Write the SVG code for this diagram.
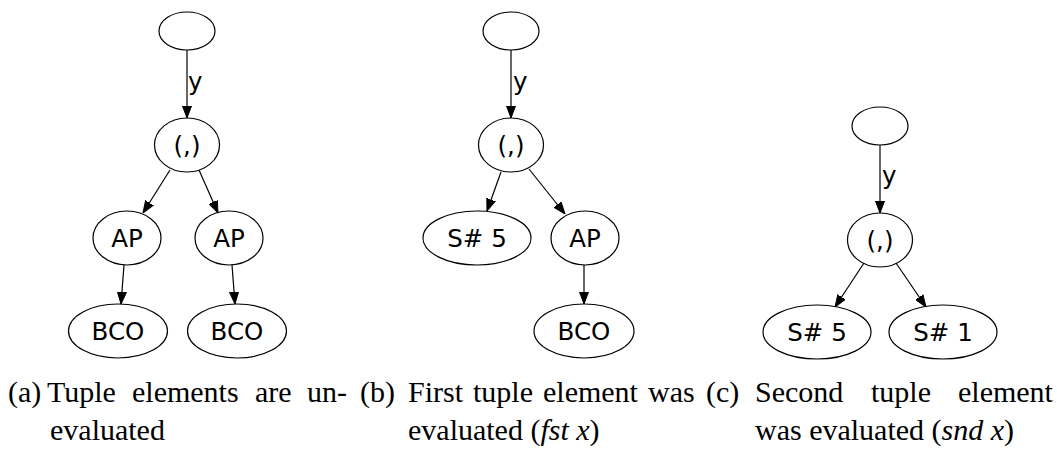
<svg xmlns="http://www.w3.org/2000/svg" width="1057" height="450" viewBox="0 0 1057 450">
<style>
.n ellipse{fill:none;stroke:#000;stroke-width:1.2}
.n text,.lbl{font-family:"DejaVu Sans",sans-serif;font-size:24.5px;fill:#000}
.n text{text-anchor:middle}
.e line{stroke:#000;stroke-width:1.2;marker-end:url(#ah)}
.cap{font-family:"Liberation Serif",serif;font-size:30px;fill:#000}
</style>
<defs>
<marker id="ah" markerUnits="userSpaceOnUse" viewBox="0 0 12 10" refX="12" refY="5" markerWidth="12" markerHeight="10" orient="auto">
<path d="M0,0.5 L12,5 L0,9.5 Z" fill="#000" stroke="#000" stroke-width="1"/>
</marker>
</defs>
<g id="edges" class="e">
<line x1="187" y1="50" x2="187" y2="118"/>
<line x1="170" y1="170" x2="143" y2="213"/>
<line x1="199" y1="170" x2="218" y2="213"/>
<line x1="124" y1="265" x2="121" y2="304"/>
<line x1="232" y1="265" x2="235" y2="304"/>
<line x1="511" y1="50" x2="511" y2="118"/>
<line x1="501" y1="172" x2="487" y2="211"/>
<line x1="529" y1="169" x2="565" y2="214"/>
<line x1="584" y1="265" x2="584" y2="304"/>
<line x1="880" y1="145" x2="880" y2="213"/>
<line x1="864" y1="263" x2="835" y2="307"/>
<line x1="896" y1="263" x2="926" y2="307"/>
<text class="lbl" x="188" y="90">y</text>
<text class="lbl" x="513" y="90">y</text>
<text class="lbl" x="882" y="184">y</text>
</g>
<g id="a_root" class="n"><ellipse cx="187" cy="31" rx="28" ry="19"/></g>
<g id="a_pair" class="n"><ellipse cx="187" cy="145" rx="32.5" ry="27"/><text x="187" y="153.5">(,)</text></g>
<g id="a_ap1" class="n"><ellipse cx="127" cy="238" rx="34" ry="27"/><text x="127" y="246.5">AP</text></g>
<g id="a_ap2" class="n"><ellipse cx="229" cy="238" rx="34" ry="27"/><text x="229" y="246.5">AP</text></g>
<g id="a_bco1" class="n"><ellipse cx="118" cy="331" rx="49.5" ry="27"/><text x="118" y="339.5">BCO</text></g>
<g id="a_bco2" class="n"><ellipse cx="237" cy="331" rx="49.5" ry="27"/><text x="237" y="339.5">BCO</text></g>
<g id="b_root" class="n"><ellipse cx="511" cy="31" rx="28" ry="19"/></g>
<g id="b_pair" class="n"><ellipse cx="511" cy="145" rx="32.5" ry="27"/><text x="511" y="153.5">(,)</text></g>
<g id="b_s5" class="n"><ellipse cx="477" cy="238" rx="54" ry="27"/><text x="477" y="246.5">S# 5</text></g>
<g id="b_ap" class="n"><ellipse cx="585" cy="238" rx="34" ry="27"/><text x="585" y="246.5">AP</text></g>
<g id="b_bco" class="n"><ellipse cx="584" cy="331" rx="50" ry="27"/><text x="584" y="339.5">BCO</text></g>
<g id="c_root" class="n"><ellipse cx="880" cy="126" rx="28" ry="19"/></g>
<g id="c_pair" class="n"><ellipse cx="880" cy="240" rx="32.5" ry="27"/><text x="880" y="248.5">(,)</text></g>
<g id="c_s5" class="n"><ellipse cx="817" cy="332" rx="54" ry="27"/><text x="817" y="340.5">S# 5</text></g>
<g id="c_s1" class="n"><ellipse cx="943" cy="332" rx="54" ry="27"/><text x="943" y="340.5">S# 1</text></g>
<g id="captions">
<text class="cap" y="402"><tspan x="8">(a)</tspan><tspan x="47">Tuple</tspan><tspan x="132">elements</tspan><tspan x="255">are</tspan><tspan x="307">un-</tspan></text>
<text class="cap" x="50" y="440">evaluated</text>
<text class="cap" y="402"><tspan x="360">(b)</tspan><tspan x="408">First</tspan><tspan x="473">tuple</tspan><tspan x="543">element</tspan><tspan x="648">was</tspan></text>
<text class="cap" x="408" y="440">evaluated (<tspan font-style="italic">fst x</tspan>)</text>
<text class="cap" y="402"><tspan x="706">(c)</tspan><tspan x="755">Second</tspan><tspan x="871">tuple</tspan><tspan x="958">element</tspan></text>
<text class="cap" x="755" y="440">was evaluated (<tspan font-style="italic">snd x</tspan>)</text>
</g>
</svg>
